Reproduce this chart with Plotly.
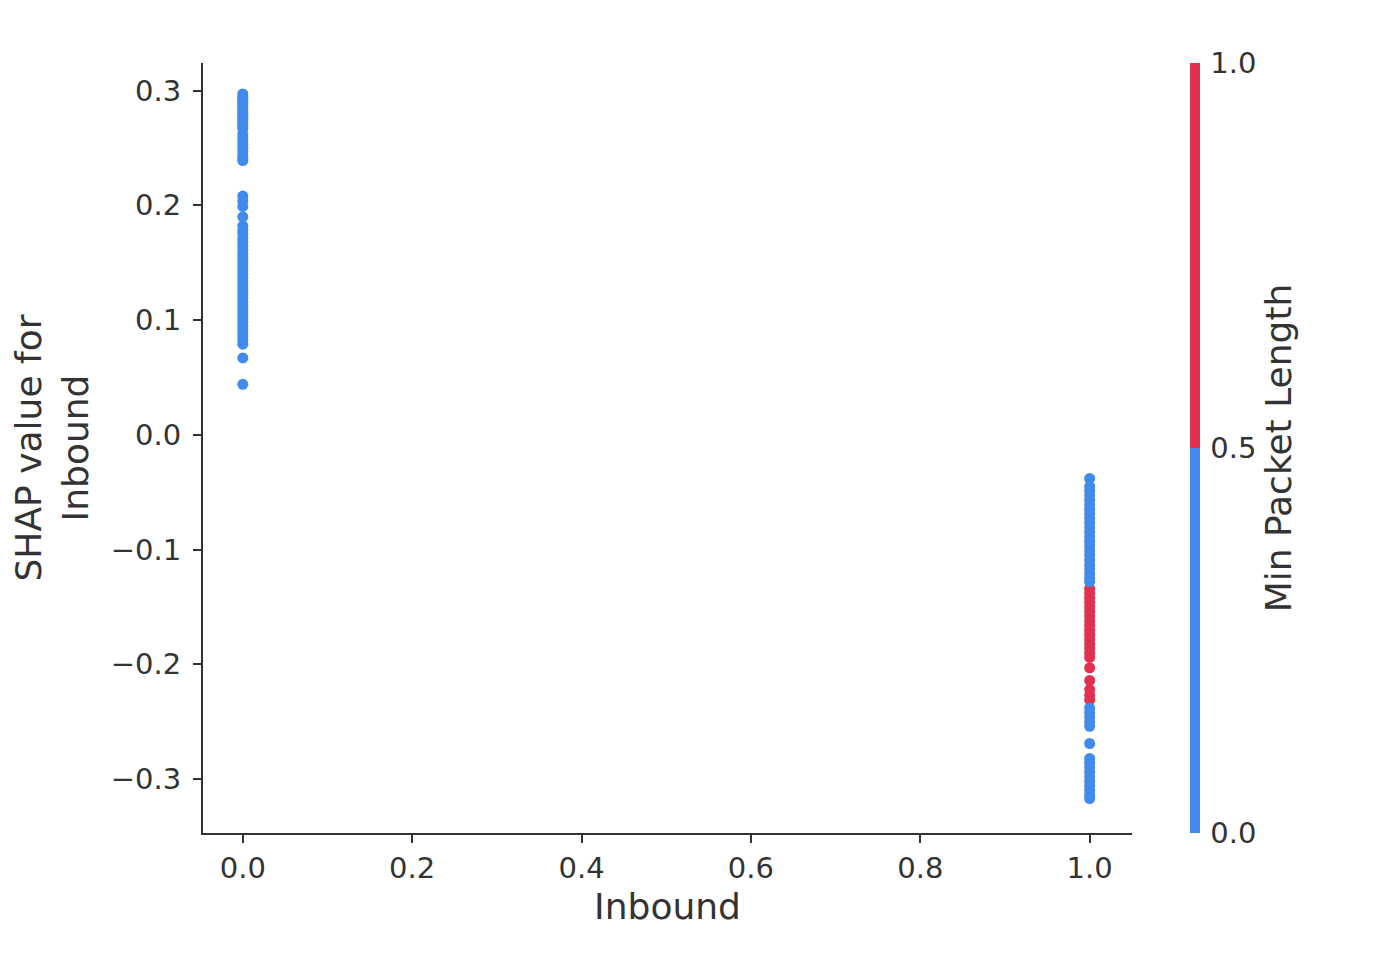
import plotly.graph_objects as go

# Feature value (Inbound) and SHAP values
inbound_0_shap = [
    0.297, 0.295, 0.293, 0.291, 0.289, 0.287, 0.285, 0.283, 0.281, 0.279,
    0.277, 0.275, 0.273, 0.271, 0.269, 0.267,
    0.262, 0.259, 0.256, 0.253, 0.250, 0.247, 0.244, 0.241, 0.239,
    0.208, 0.204, 0.199, 0.190,
    0.182, 0.178, 0.175, 0.171, 0.168, 0.165, 0.161, 0.158, 0.155, 0.152,
    0.149, 0.146, 0.143, 0.140, 0.137, 0.134, 0.131, 0.128, 0.125, 0.122,
    0.119, 0.116, 0.113, 0.110, 0.107, 0.104, 0.101, 0.098, 0.095, 0.092,
    0.089, 0.086, 0.083, 0.079,
    0.067, 0.044,
]
inbound_0_color = [0.0] * len(inbound_0_shap)

inbound_1_red_shap = [
    -0.134, -0.138, -0.142, -0.146, -0.150, -0.154, -0.158, -0.162,
    -0.166, -0.170, -0.174, -0.178, -0.182, -0.186, -0.190, -0.194,
    -0.203, -0.214, -0.222, -0.227, -0.231,
]
inbound_1_red_color = [1.0] * len(inbound_1_red_shap)

inbound_1_blue_shap = [
    -0.038, -0.045, -0.049, -0.053, -0.057, -0.061, -0.065, -0.069,
    -0.073, -0.077, -0.081, -0.085, -0.089, -0.093, -0.097, -0.101,
    -0.105, -0.109, -0.113, -0.117, -0.121, -0.125, -0.128,
    -0.238, -0.242, -0.246, -0.250, -0.254,
    -0.269,
    -0.282, -0.286, -0.290, -0.294, -0.298, -0.302, -0.306, -0.310, -0.314, -0.317,
]
inbound_1_blue_color = [0.0] * len(inbound_1_blue_shap)

x_ticks = [0.0, 0.2, 0.4, 0.6, 0.8, 1.0]
y_ticks = [-0.3, -0.2, -0.1, 0.0, 0.1, 0.2, 0.3]
cbar_ticks = [0.0, 0.5, 1.0]
cbar_labels = ["0.0", "0.5", "1.0"]

BLUE = "#418bef"
RED = "#e3304f"
AX = "#333333"
FONT = "DejaVu Sans"
colorscale = [[0, BLUE], [0.5, BLUE], [0.5, RED], [1, RED]]

xs = ([0.0] * len(inbound_0_shap) + [1.0] * len(inbound_1_red_shap)
      + [1.0] * len(inbound_1_blue_shap))
ys = inbound_0_shap + inbound_1_red_shap + inbound_1_blue_shap
cs = inbound_0_color + inbound_1_red_color + inbound_1_blue_color

fig = go.Figure()
fig.add_trace(go.Scatter(
    x=xs, y=ys, mode="markers",
    marker=dict(
        size=11, color=cs, colorscale=colorscale, cmin=0, cmax=1,
        line=dict(width=0),
        colorbar=dict(
            thickness=10, len=1, lenmode="fraction", y=0.5, yanchor="middle",
            x=1.0624, xanchor="left", xpad=0, ypad=0,
            outlinewidth=0, ticks="outside", ticklen=5, tickcolor="rgba(0,0,0,0)",
            tickvals=cbar_ticks, ticktext=cbar_labels,
            tickfont=dict(family=FONT, size=29, color=AX),
            title=dict(text="Min Packet Length", side="right",
                       font=dict(family=FONT, size=36, color=AX)),
        ),
    ),
    showlegend=False, hoverinfo="x+y",
))

fig.update_layout(
    width=1390, height=972,
    margin=dict(l=195, r=266, t=55, b=147),
    paper_bgcolor="white", plot_bgcolor="white",
    font=dict(family=FONT, color=AX),
)
fig.update_xaxes(
    range=[-0.047, 1.05], tickvals=x_ticks, ticktext=[f"{v:.1f}" for v in x_ticks],
    showgrid=False, zeroline=False, showline=True, linecolor=AX, linewidth=2,
    ticks="outside", ticklen=8, tickwidth=2, tickcolor=AX,
    tickfont=dict(family=FONT, size=29, color=AX),
    title=dict(text="Inbound", font=dict(family=FONT, size=36, color=AX), standoff=10),
    automargin=False,
)
fig.update_yaxes(
    range=[-0.347, 0.324], tickvals=y_ticks,
    ticktext=["\u22120.3", "\u22120.2", "\u22120.1", "0.0", "0.1", "0.2", "0.3"],
    showgrid=False, zeroline=False, showline=True, linecolor=AX, linewidth=2,
    ticks="outside", ticklen=8, tickwidth=2, tickcolor=AX, ticklabelstandoff=6,
    tickfont=dict(family=FONT, size=29, color=AX),
    title=dict(text="SHAP value for<br>Inbound", font=dict(family=FONT, size=36, color=AX), standoff=16),
    automargin=False,
)

fig.write_html("out.html")
